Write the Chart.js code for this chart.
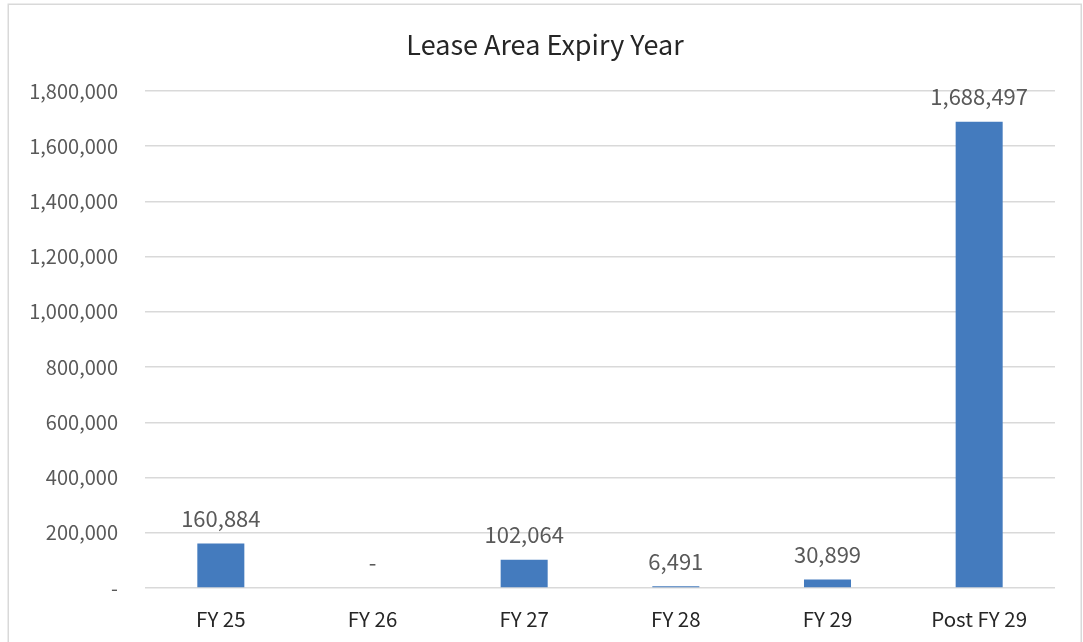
<!DOCTYPE html>
<html>
<head>
<meta charset="utf-8">
<script src="https://cdn.jsdelivr.net/npm/chart.js@4/dist/chart.umd.min.js"></script>
<style>
html,body{margin:0;padding:0;background:#fff;}
#wrap{position:relative;width:1083px;height:642px;}
</style>
</head>
<body>
<div id="wrap"><canvas id="c" width="1083" height="642"></canvas></div>
<script>
const categories = ["FY 25", "FY 26", "FY 27", "FY 28", "FY 29", "Post FY 29"];
const leaseArea = [160884, 0, 102064, 6491, 30899, 1688497];
const yMin = 0, yMax = 1800000, yStep = 200000;
const chartTitle = "Lease Area Expiry Year";

const FONT = "'Noto Sans CJK SC', 'Noto Sans', sans-serif";
const fmt = v => v === 0 ? "-" : v.toLocaleString('en-US');

const frame = {
  id: 'frame',
  beforeDraw(chart) {
    const ctx = chart.ctx;
    ctx.save();
    ctx.fillStyle = '#fff';
    ctx.fillRect(0, 0, chart.width, chart.height);
    ctx.strokeStyle = '#d9d9d9';
    ctx.lineWidth = 1.5;
    ctx.strokeRect(8.25, 4.25, 1073, 700);
    // title, centred on the outer frame
    ctx.font = "27px " + FONT;
    ctx.fillStyle = '#262626';
    ctx.textAlign = 'center';
    ctx.textBaseline = 'middle';
    ctx.fillText(chartTitle, 545, 45);
    ctx.restore();
  }
};

const valueLabels = {
  id: 'valueLabels',
  afterDatasetsDraw(chart) {
    const ctx = chart.ctx;
    const meta = chart.getDatasetMeta(0);
    ctx.save();
    ctx.font = "22px " + FONT;
    ctx.fillStyle = '#595959';
    ctx.textAlign = 'center';
    ctx.textBaseline = 'middle';
    meta.data.forEach((bar, i) => {
      ctx.fillText(fmt(chart.data.datasets[0].data[i]), bar.x, bar.y - 25);
    });
    ctx.restore();
  }
};

new Chart(document.getElementById('c'), {
  type: 'bar',
  data: {
    labels: categories,
    datasets: [{
      data: leaseArea,
      backgroundColor: '#447BBE',
      borderWidth: 0,
      categoryPercentage: 1,
      barPercentage: 0.31
    }]
  },
  options: {
    responsive: false,
    animation: false,
    devicePixelRatio: 1,
    layout: { padding: { left: 8, right: 28, top: 91, bottom: 0 } },
    plugins: {
      legend: { display: false },
      tooltip: { enabled: false },
      title: { display: false }
    },
    scales: {
      x: {
        grid: { display: false, drawTicks: false },
        border: { display: false },
        ticks: { color: '#262626', font: { family: FONT, size: 20.5 }, padding: 19, maxRotation: 0 },
        afterFit(s) { s.height = 54; }
      },
      y: {
        min: yMin, max: yMax,
        grid: { color: '#d9d9d9', lineWidth: 1.5, drawTicks: false },
        border: { display: false },
        ticks: {
          stepSize: yStep,
          color: '#595959',
          font: { family: FONT, size: 20 },
          padding: 27,
          callback: v => fmt(v)
        },
        afterFit(s) { s.width = 137; }
      }
    }
  },
  plugins: [frame, valueLabels]
});
</script>
</body>
</html>
